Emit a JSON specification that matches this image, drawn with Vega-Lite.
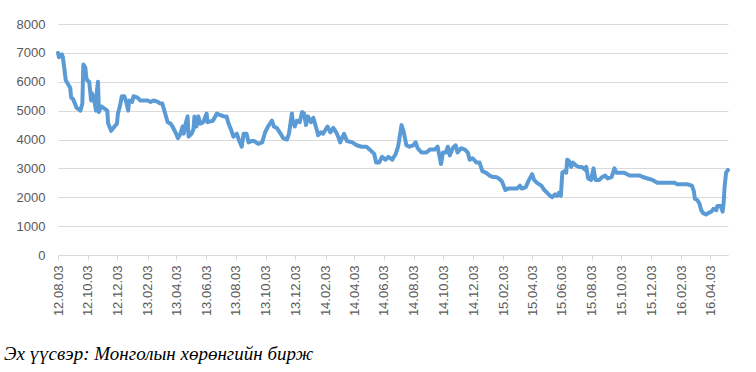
{
  "$schema": "https://vega.github.io/schema/vega-lite/v6.json",
  "autosize": "none",
  "width": 670,
  "height": 231,
  "padding": {"left": 58, "top": 24, "right": 28, "bottom": 117},
  "background": "white",
  "config": {"view": {"stroke": null}},
  "title": {
    "text": "Эх үүсвэр: Монголын хөрөнгийн бирж",
    "orient": "bottom",
    "anchor": "start",
    "frame": "group",
    "font": "serif",
    "fontStyle": "italic",
    "fontWeight": "normal",
    "fontSize": 19,
    "color": "#000000",
    "dx": -54,
    "offset": 29
  },
  "data": {
    "values": [
      {"date": "2012-08-03", "value": 7000},
      {"date": "2012-08-05", "value": 6850},
      {"date": "2012-08-11", "value": 6950},
      {"date": "2012-08-13", "value": 6850},
      {"date": "2012-08-19", "value": 6050},
      {"date": "2012-08-24", "value": 5900},
      {"date": "2012-08-28", "value": 5800},
      {"date": "2012-08-30", "value": 5450},
      {"date": "2012-09-03", "value": 5400},
      {"date": "2012-09-10", "value": 5100},
      {"date": "2012-09-18", "value": 5000},
      {"date": "2012-09-22", "value": 5250},
      {"date": "2012-09-24", "value": 6600},
      {"date": "2012-09-28", "value": 6500},
      {"date": "2012-09-30", "value": 6150},
      {"date": "2012-10-02", "value": 6050},
      {"date": "2012-10-06", "value": 6000},
      {"date": "2012-10-10", "value": 5350},
      {"date": "2012-10-12", "value": 5600},
      {"date": "2012-10-16", "value": 5400},
      {"date": "2012-10-20", "value": 5000},
      {"date": "2012-10-22", "value": 5700},
      {"date": "2012-10-24", "value": 6000},
      {"date": "2012-10-26", "value": 4950},
      {"date": "2012-10-30", "value": 5150},
      {"date": "2012-11-04", "value": 5100},
      {"date": "2012-11-12", "value": 5000},
      {"date": "2012-11-14", "value": 4550},
      {"date": "2012-11-20", "value": 4300},
      {"date": "2012-11-27", "value": 4450},
      {"date": "2012-12-02", "value": 4550},
      {"date": "2012-12-04", "value": 4900},
      {"date": "2012-12-08", "value": 5150},
      {"date": "2012-12-12", "value": 5500},
      {"date": "2012-12-17", "value": 5500},
      {"date": "2012-12-21", "value": 5300},
      {"date": "2012-12-25", "value": 5000},
      {"date": "2012-12-27", "value": 5350},
      {"date": "2013-01-02", "value": 5300},
      {"date": "2013-01-05", "value": 5500},
      {"date": "2013-01-13", "value": 5450},
      {"date": "2013-01-19", "value": 5350},
      {"date": "2013-02-03", "value": 5350},
      {"date": "2013-02-09", "value": 5300},
      {"date": "2013-02-15", "value": 5350},
      {"date": "2013-02-24", "value": 5300},
      {"date": "2013-02-28", "value": 5250},
      {"date": "2013-03-05", "value": 5250},
      {"date": "2013-03-11", "value": 4900},
      {"date": "2013-03-16", "value": 4600},
      {"date": "2013-03-22", "value": 4550},
      {"date": "2013-03-26", "value": 4450},
      {"date": "2013-04-01", "value": 4250},
      {"date": "2013-04-06", "value": 4050},
      {"date": "2013-04-10", "value": 4150},
      {"date": "2013-04-16", "value": 4450},
      {"date": "2013-04-18", "value": 4200},
      {"date": "2013-04-22", "value": 4550},
      {"date": "2013-04-26", "value": 4800},
      {"date": "2013-04-28", "value": 4100},
      {"date": "2013-05-04", "value": 4200},
      {"date": "2013-05-08", "value": 4350},
      {"date": "2013-05-10", "value": 4800},
      {"date": "2013-05-14", "value": 4450},
      {"date": "2013-05-18", "value": 4800},
      {"date": "2013-05-22", "value": 4550},
      {"date": "2013-05-28", "value": 4600},
      {"date": "2013-06-04", "value": 4900},
      {"date": "2013-06-06", "value": 4600},
      {"date": "2013-06-17", "value": 4650},
      {"date": "2013-06-25", "value": 4900},
      {"date": "2013-07-01", "value": 4850},
      {"date": "2013-07-09", "value": 4800},
      {"date": "2013-07-15", "value": 4800},
      {"date": "2013-07-19", "value": 4550},
      {"date": "2013-07-25", "value": 4300},
      {"date": "2013-07-29", "value": 4100},
      {"date": "2013-08-05", "value": 4200},
      {"date": "2013-08-09", "value": 4000},
      {"date": "2013-08-15", "value": 3750},
      {"date": "2013-08-19", "value": 4200},
      {"date": "2013-08-25", "value": 4200},
      {"date": "2013-08-29", "value": 3900},
      {"date": "2013-09-05", "value": 3950},
      {"date": "2013-09-09", "value": 3950},
      {"date": "2013-09-18", "value": 3850},
      {"date": "2013-09-26", "value": 3900},
      {"date": "2013-10-02", "value": 4250},
      {"date": "2013-10-08", "value": 4450},
      {"date": "2013-10-16", "value": 4650},
      {"date": "2013-10-20", "value": 4450},
      {"date": "2013-10-26", "value": 4400},
      {"date": "2013-11-01", "value": 4250},
      {"date": "2013-11-08", "value": 4050},
      {"date": "2013-11-16", "value": 4000},
      {"date": "2013-11-20", "value": 4200},
      {"date": "2013-11-26", "value": 4900},
      {"date": "2013-11-28", "value": 4600},
      {"date": "2013-12-02", "value": 4450},
      {"date": "2013-12-06", "value": 4650},
      {"date": "2013-12-12", "value": 4600},
      {"date": "2013-12-17", "value": 4950},
      {"date": "2013-12-21", "value": 4900},
      {"date": "2013-12-25", "value": 4500},
      {"date": "2013-12-29", "value": 4800},
      {"date": "2014-01-04", "value": 4600},
      {"date": "2014-01-09", "value": 4750},
      {"date": "2014-01-15", "value": 4400},
      {"date": "2014-01-19", "value": 4150},
      {"date": "2014-01-25", "value": 4250},
      {"date": "2014-01-29", "value": 4200},
      {"date": "2014-02-07", "value": 4450},
      {"date": "2014-02-13", "value": 4250},
      {"date": "2014-02-19", "value": 4400},
      {"date": "2014-02-25", "value": 4250},
      {"date": "2014-03-01", "value": 4100},
      {"date": "2014-03-05", "value": 3900},
      {"date": "2014-03-13", "value": 4200},
      {"date": "2014-03-19", "value": 3950},
      {"date": "2014-03-30", "value": 3900},
      {"date": "2014-04-08", "value": 3800},
      {"date": "2014-04-18", "value": 3750},
      {"date": "2014-04-28", "value": 3750},
      {"date": "2014-05-08", "value": 3600},
      {"date": "2014-05-14", "value": 3500},
      {"date": "2014-05-18", "value": 3200},
      {"date": "2014-05-24", "value": 3200},
      {"date": "2014-05-30", "value": 3400},
      {"date": "2014-06-06", "value": 3300},
      {"date": "2014-06-12", "value": 3400},
      {"date": "2014-06-20", "value": 3300},
      {"date": "2014-06-27", "value": 3500},
      {"date": "2014-07-02", "value": 3750},
      {"date": "2014-07-09", "value": 4500},
      {"date": "2014-07-13", "value": 4300},
      {"date": "2014-07-19", "value": 3800},
      {"date": "2014-07-25", "value": 3750},
      {"date": "2014-08-02", "value": 3800},
      {"date": "2014-08-07", "value": 3900},
      {"date": "2014-08-11", "value": 3700},
      {"date": "2014-08-19", "value": 3550},
      {"date": "2014-08-29", "value": 3550},
      {"date": "2014-09-05", "value": 3650},
      {"date": "2014-09-15", "value": 3650},
      {"date": "2014-09-21", "value": 3750},
      {"date": "2014-09-28", "value": 3150},
      {"date": "2014-10-02", "value": 3550},
      {"date": "2014-10-08", "value": 3550},
      {"date": "2014-10-12", "value": 3750},
      {"date": "2014-10-16", "value": 3450},
      {"date": "2014-10-22", "value": 3700},
      {"date": "2014-10-28", "value": 3800},
      {"date": "2014-11-01", "value": 3550},
      {"date": "2014-11-08", "value": 3700},
      {"date": "2014-11-16", "value": 3650},
      {"date": "2014-11-22", "value": 3550},
      {"date": "2014-11-26", "value": 3300},
      {"date": "2014-12-02", "value": 3350},
      {"date": "2014-12-10", "value": 3200},
      {"date": "2014-12-16", "value": 3200},
      {"date": "2014-12-22", "value": 2900},
      {"date": "2014-12-29", "value": 2850},
      {"date": "2015-01-06", "value": 2750},
      {"date": "2015-01-12", "value": 2700},
      {"date": "2015-01-19", "value": 2700},
      {"date": "2015-01-25", "value": 2650},
      {"date": "2015-01-31", "value": 2550},
      {"date": "2015-02-07", "value": 2250},
      {"date": "2015-02-13", "value": 2300},
      {"date": "2015-02-23", "value": 2300},
      {"date": "2015-03-03", "value": 2300},
      {"date": "2015-03-09", "value": 2400},
      {"date": "2015-03-13", "value": 2300},
      {"date": "2015-03-21", "value": 2350},
      {"date": "2015-03-26", "value": 2550},
      {"date": "2015-04-03", "value": 2800},
      {"date": "2015-04-07", "value": 2600},
      {"date": "2015-04-13", "value": 2500},
      {"date": "2015-04-22", "value": 2400},
      {"date": "2015-04-28", "value": 2250},
      {"date": "2015-05-04", "value": 2150},
      {"date": "2015-05-10", "value": 2050},
      {"date": "2015-05-14", "value": 2000},
      {"date": "2015-05-20", "value": 2100},
      {"date": "2015-05-24", "value": 2050},
      {"date": "2015-05-28", "value": 2150},
      {"date": "2015-06-01", "value": 2050},
      {"date": "2015-06-04", "value": 2850},
      {"date": "2015-06-08", "value": 2900},
      {"date": "2015-06-12", "value": 2850},
      {"date": "2015-06-14", "value": 3300},
      {"date": "2015-06-18", "value": 3250},
      {"date": "2015-06-22", "value": 3050},
      {"date": "2015-06-26", "value": 3200},
      {"date": "2015-07-02", "value": 3100},
      {"date": "2015-07-08", "value": 3050},
      {"date": "2015-07-14", "value": 3050},
      {"date": "2015-07-21", "value": 2950},
      {"date": "2015-07-23", "value": 3050},
      {"date": "2015-07-27", "value": 2650},
      {"date": "2015-08-02", "value": 2600},
      {"date": "2015-08-07", "value": 3000},
      {"date": "2015-08-11", "value": 2600},
      {"date": "2015-08-19", "value": 2600},
      {"date": "2015-08-25", "value": 2700},
      {"date": "2015-08-31", "value": 2750},
      {"date": "2015-09-05", "value": 2650},
      {"date": "2015-09-13", "value": 2700},
      {"date": "2015-09-19", "value": 3000},
      {"date": "2015-09-23", "value": 2850},
      {"date": "2015-10-03", "value": 2850},
      {"date": "2015-10-09", "value": 2850},
      {"date": "2015-10-20", "value": 2750},
      {"date": "2015-10-30", "value": 2750},
      {"date": "2015-11-10", "value": 2750},
      {"date": "2015-11-16", "value": 2700},
      {"date": "2015-11-26", "value": 2650},
      {"date": "2015-12-06", "value": 2600},
      {"date": "2015-12-16", "value": 2500},
      {"date": "2015-12-26", "value": 2500},
      {"date": "2016-01-10", "value": 2500},
      {"date": "2016-01-21", "value": 2500},
      {"date": "2016-01-25", "value": 2450},
      {"date": "2016-02-04", "value": 2450},
      {"date": "2016-02-15", "value": 2450},
      {"date": "2016-02-25", "value": 2400},
      {"date": "2016-02-29", "value": 2200},
      {"date": "2016-03-02", "value": 1950},
      {"date": "2016-03-07", "value": 1900},
      {"date": "2016-03-11", "value": 1800},
      {"date": "2016-03-15", "value": 1550},
      {"date": "2016-03-19", "value": 1450},
      {"date": "2016-03-25", "value": 1400},
      {"date": "2016-03-29", "value": 1450},
      {"date": "2016-04-05", "value": 1500},
      {"date": "2016-04-09", "value": 1600},
      {"date": "2016-04-15", "value": 1550},
      {"date": "2016-04-17", "value": 1700},
      {"date": "2016-04-24", "value": 1700},
      {"date": "2016-04-28", "value": 1500},
      {"date": "2016-04-30", "value": 1800},
      {"date": "2016-05-02", "value": 2350},
      {"date": "2016-05-05", "value": 2850},
      {"date": "2016-05-09", "value": 2950}
    ]
  },
  "mark": {"type": "line", "color": "#5B9BD5", "strokeWidth": 4, "strokeJoin": "round", "strokeCap": "round", "clip": false},
  "encoding": {
    "x": {
      "field": "date",
      "type": "temporal",
      "scale": {
        "type": "utc",
        "nice": false,
        "domain": [
          {"year": 2012, "month": 8, "date": 3, "utc": true},
          {"year": 2016, "month": 5, "date": 9, "utc": true}
        ]
      },
      "axis": {
        "title": null,
        "format": "%y.%m.%d",
        "values": [
          {"year": 2012, "month": 8, "date": 3, "utc": true},
          {"year": 2012, "month": 10, "date": 3, "utc": true},
          {"year": 2012, "month": 12, "date": 3, "utc": true},
          {"year": 2013, "month": 2, "date": 3, "utc": true},
          {"year": 2013, "month": 4, "date": 3, "utc": true},
          {"year": 2013, "month": 6, "date": 3, "utc": true},
          {"year": 2013, "month": 8, "date": 3, "utc": true},
          {"year": 2013, "month": 10, "date": 3, "utc": true},
          {"year": 2013, "month": 12, "date": 3, "utc": true},
          {"year": 2014, "month": 2, "date": 3, "utc": true},
          {"year": 2014, "month": 4, "date": 3, "utc": true},
          {"year": 2014, "month": 6, "date": 3, "utc": true},
          {"year": 2014, "month": 8, "date": 3, "utc": true},
          {"year": 2014, "month": 10, "date": 3, "utc": true},
          {"year": 2014, "month": 12, "date": 3, "utc": true},
          {"year": 2015, "month": 2, "date": 3, "utc": true},
          {"year": 2015, "month": 4, "date": 3, "utc": true},
          {"year": 2015, "month": 6, "date": 3, "utc": true},
          {"year": 2015, "month": 8, "date": 3, "utc": true},
          {"year": 2015, "month": 10, "date": 3, "utc": true},
          {"year": 2015, "month": 12, "date": 3, "utc": true},
          {"year": 2016, "month": 2, "date": 3, "utc": true},
          {"year": 2016, "month": 4, "date": 3, "utc": true}
        ],
        "labelAngle": -90,
        "labelFont": "Liberation Sans",
        "labelFontSize": 13,
        "labelColor": "#595959",
        "labelPadding": 5,
        "labelOverlap": false,
        "labelFlush": false,
        "grid": false,
        "domainColor": "#d9d9d9",
        "domainWidth": 1,
        "tickColor": "#d9d9d9",
        "tickSize": 5
      }
    },
    "y": {
      "field": "value",
      "type": "quantitative",
      "scale": {"domain": [0, 8000], "nice": false},
      "axis": {
        "title": null,
        "values": [0, 1000, 2000, 3000, 4000, 5000, 6000, 7000, 8000],
        "format": "d",
        "labelFont": "Liberation Sans",
        "labelFontSize": 13,
        "labelColor": "#595959",
        "labelPadding": 13,
        "domain": false,
        "ticks": false,
        "grid": true,
        "gridColor": "#d9d9d9",
        "gridWidth": 1
      }
    }
  }
}
